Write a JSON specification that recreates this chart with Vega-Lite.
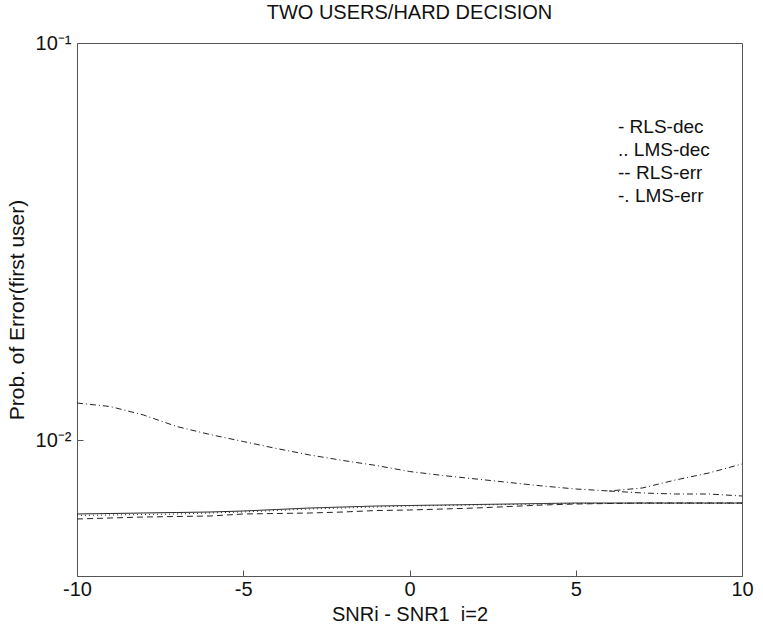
{
  "$schema": "https://vega.github.io/schema/vega-lite/v6.json",
  "autosize": "none",
  "width": 665,
  "height": 533,
  "padding": {"left": 77, "top": 43, "right": 21, "bottom": 54},
  "background": "white",
  "config": {
    "font": "Liberation Sans",
    "view": {"stroke": "#555", "strokeWidth": 1},
    "axis": {"labelFont": "Liberation Sans", "titleFont": "Liberation Sans", "labelColor": "#111", "titleColor": "#111", "titleFontWeight": "normal", "grid": false, "domain": false, "tickColor": "#555"}
  },
  "title": {"text": "TWO USERS/HARD DECISION", "fontSize": 20, "fontWeight": "normal", "font": "Liberation Sans", "color": "#111", "offset": 10},
  "data": {"values": [
    {"x": -10, "v": 0.0065101, "series": "RLS-dec", "branch": "a"},
    {"x": -9, "v": 0.0065291, "series": "RLS-dec", "branch": "a"},
    {"x": -8, "v": 0.0065481, "series": "RLS-dec", "branch": "a"},
    {"x": -7, "v": 0.0065671, "series": "RLS-dec", "branch": "a"},
    {"x": -6, "v": 0.0065862, "series": "RLS-dec", "branch": "a"},
    {"x": -5, "v": 0.0066245, "series": "RLS-dec", "branch": "a"},
    {"x": -4, "v": 0.0066824, "series": "RLS-dec", "branch": "a"},
    {"x": -3, "v": 0.0067408, "series": "RLS-dec", "branch": "a"},
    {"x": -2, "v": 0.0067799, "series": "RLS-dec", "branch": "a"},
    {"x": -1, "v": 0.0068193, "series": "RLS-dec", "branch": "a"},
    {"x": 0, "v": 0.0068391, "series": "RLS-dec", "branch": "a"},
    {"x": 1, "v": 0.0068590, "series": "RLS-dec", "branch": "a"},
    {"x": 2, "v": 0.0068789, "series": "RLS-dec", "branch": "a"},
    {"x": 3, "v": 0.0068989, "series": "RLS-dec", "branch": "a"},
    {"x": 4, "v": 0.0069189, "series": "RLS-dec", "branch": "a"},
    {"x": 5, "v": 0.0069391, "series": "RLS-dec", "branch": "a"},
    {"x": 6, "v": 0.0069391, "series": "RLS-dec", "branch": "a"},
    {"x": 7, "v": 0.0069391, "series": "RLS-dec", "branch": "a"},
    {"x": 8, "v": 0.0069391, "series": "RLS-dec", "branch": "a"},
    {"x": 9, "v": 0.0069391, "series": "RLS-dec", "branch": "a"},
    {"x": 10, "v": 0.0069391, "series": "RLS-dec", "branch": "a"},

    {"x": -10, "v": 0.0064538, "series": "LMS-dec", "branch": "a"},
    {"x": -9, "v": 0.0064725, "series": "LMS-dec", "branch": "a"},
    {"x": -8, "v": 0.0064913, "series": "LMS-dec", "branch": "a"},
    {"x": -7, "v": 0.0065101, "series": "LMS-dec", "branch": "a"},
    {"x": -6, "v": 0.0065481, "series": "LMS-dec", "branch": "a"},
    {"x": -5, "v": 0.0065862, "series": "LMS-dec", "branch": "a"},
    {"x": -4, "v": 0.0066437, "series": "LMS-dec", "branch": "a"},
    {"x": -3, "v": 0.0067018, "series": "LMS-dec", "branch": "a"},
    {"x": -2, "v": 0.0067408, "series": "LMS-dec", "branch": "a"},
    {"x": -1, "v": 0.0067799, "series": "LMS-dec", "branch": "a"},
    {"x": 0, "v": 0.0068193, "series": "LMS-dec", "branch": "a"},
    {"x": 1, "v": 0.0068391, "series": "LMS-dec", "branch": "a"},
    {"x": 2, "v": 0.0068590, "series": "LMS-dec", "branch": "a"},
    {"x": 3, "v": 0.0068789, "series": "LMS-dec", "branch": "a"},
    {"x": 4, "v": 0.0068989, "series": "LMS-dec", "branch": "a"},
    {"x": 5, "v": 0.0069189, "series": "LMS-dec", "branch": "a"},
    {"x": 6, "v": 0.0069189, "series": "LMS-dec", "branch": "a"},
    {"x": 7, "v": 0.0069189, "series": "LMS-dec", "branch": "a"},
    {"x": 8, "v": 0.0069189, "series": "LMS-dec", "branch": "a"},
    {"x": 9, "v": 0.0069189, "series": "LMS-dec", "branch": "a"},
    {"x": 10, "v": 0.0069189, "series": "LMS-dec", "branch": "a"},

    {"x": -10, "v": 0.0063242, "series": "RLS-err", "branch": "a"},
    {"x": -9, "v": 0.0063610, "series": "RLS-err", "branch": "a"},
    {"x": -8, "v": 0.0063980, "series": "RLS-err", "branch": "a"},
    {"x": -7, "v": 0.0064164, "series": "RLS-err", "branch": "a"},
    {"x": -6, "v": 0.0064351, "series": "RLS-err", "branch": "a"},
    {"x": -5, "v": 0.0065101, "series": "RLS-err", "branch": "a"},
    {"x": -4, "v": 0.0065291, "series": "RLS-err", "branch": "a"},
    {"x": -3, "v": 0.0065481, "series": "RLS-err", "branch": "a"},
    {"x": -2, "v": 0.0065862, "series": "RLS-err", "branch": "a"},
    {"x": -1, "v": 0.0066437, "series": "RLS-err", "branch": "a"},
    {"x": 0, "v": 0.0066630, "series": "RLS-err", "branch": "a"},
    {"x": 1, "v": 0.0067018, "series": "RLS-err", "branch": "a"},
    {"x": 2, "v": 0.0067408, "series": "RLS-err", "branch": "a"},
    {"x": 3, "v": 0.0067996, "series": "RLS-err", "branch": "a"},
    {"x": 4, "v": 0.0068590, "series": "RLS-err", "branch": "a"},
    {"x": 5, "v": 0.0068989, "series": "RLS-err", "branch": "a"},
    {"x": 6, "v": 0.0069189, "series": "RLS-err", "branch": "a"},
    {"x": 7, "v": 0.0069391, "series": "RLS-err", "branch": "a"},
    {"x": 8, "v": 0.0069391, "series": "RLS-err", "branch": "a"},
    {"x": 9, "v": 0.0069391, "series": "RLS-err", "branch": "a"},
    {"x": 10, "v": 0.0069391, "series": "RLS-err", "branch": "a"},

    {"x": -10, "v": 0.012392, "series": "LMS-err", "branch": "a"},
    {"x": -9, "v": 0.012144, "series": "LMS-err", "branch": "a"},
    {"x": -8, "v": 0.011561, "series": "LMS-err", "branch": "a"},
    {"x": -7, "v": 0.010814, "series": "LMS-err", "branch": "a"},
    {"x": -6, "v": 0.010324, "series": "LMS-err", "branch": "a"},
    {"x": -5, "v": 0.0099133, "series": "LMS-err", "branch": "a"},
    {"x": -4, "v": 0.0095191, "series": "LMS-err", "branch": "a"},
    {"x": -3, "v": 0.0091673, "series": "LMS-err", "branch": "a"},
    {"x": -2, "v": 0.0088796, "series": "LMS-err", "branch": "a"},
    {"x": -1, "v": 0.0086259, "series": "LMS-err", "branch": "a"},
    {"x": 0, "v": 0.0083305, "series": "LMS-err", "branch": "a"},
    {"x": 1, "v": 0.0081395, "series": "LMS-err", "branch": "a"},
    {"x": 2, "v": 0.0079760, "series": "LMS-err", "branch": "a"},
    {"x": 3, "v": 0.0078158, "series": "LMS-err", "branch": "a"},
    {"x": 4, "v": 0.0076587, "series": "LMS-err", "branch": "a"},
    {"x": 5, "v": 0.0075266, "series": "LMS-err", "branch": "a"},
    {"x": 6, "v": 0.0074399, "series": "LMS-err", "branch": "a"},
    {"x": 7, "v": 0.0075704, "series": "LMS-err", "branch": "a"},
    {"x": 8, "v": 0.0079298, "series": "LMS-err", "branch": "a"},
    {"x": 9, "v": 0.0082584, "series": "LMS-err", "branch": "a"},
    {"x": 10, "v": 0.0087011, "series": "LMS-err", "branch": "a"},
    {"x": 6, "v": 0.0074399, "series": "LMS-err", "branch": "b"},
    {"x": 7, "v": 0.0073540, "series": "LMS-err", "branch": "b"},
    {"x": 8, "v": 0.0073114, "series": "LMS-err", "branch": "b"},
    {"x": 9, "v": 0.0073114, "series": "LMS-err", "branch": "b"},
    {"x": 10, "v": 0.0072270, "series": "LMS-err", "branch": "b"}
  ]},
  "mark": {"type": "line", "color": "#222", "strokeWidth": 1},
  "encoding": {
    "x": {
      "field": "x", "type": "quantitative",
      "scale": {"domain": [-10, 10], "nice": false, "zero": false},
      "axis": {"values": [-10, -5, 0, 5, 10], "labelExpr": "datum.value < 0 ? '-' + abs(datum.value) : '' + datum.value", "labelFontSize": 20, "tickSize": -6, "labelPadding": 9, "title": "SNRi - SNR1\u00a0 i=2", "titleFontSize": 20, "titlePadding": 5, "labelFlush": false}
    },
    "y": {
      "field": "v", "type": "quantitative",
      "scale": {"type": "log", "domain": [0.004544, 0.1], "nice": false},
      "axis": {"values": [0.01, 0.1], "labelExpr": "datum.value > 0.05 ? '10⁻¹' : '10⁻²'", "labelFontSize": 20, "tickSize": -6, "labelPadding": 12, "title": "Prob. of Error(first user)", "titleFontSize": 21, "titlePadding": 8}
    },
    "detail": {"field": "branch"},
    "strokeDash": {
      "field": "series", "type": "nominal",
      "scale": {"domain": ["RLS-dec", "LMS-dec", "RLS-err", "LMS-err"], "range": [[1, 0], [1, 3], [6, 4], [6, 3, 1, 3]]},
      "legend": {
        "orient": "none", "legendX": 522, "legendY": 74,
        "title": null, "symbolOpacity": 0, "symbolSize": 1, "symbolStrokeWidth": 0,
        "labelFontSize": 19, "labelColor": "#111", "labelOffset": 0, "rowPadding": 3, "padding": 0,
        "labelExpr": "datum.label == 'RLS-dec' ? '- RLS-dec' : datum.label == 'LMS-dec' ? '.. LMS-dec' : datum.label == 'RLS-err' ? '-- RLS-err' : '-. LMS-err'"
      }
    }
  }
}
